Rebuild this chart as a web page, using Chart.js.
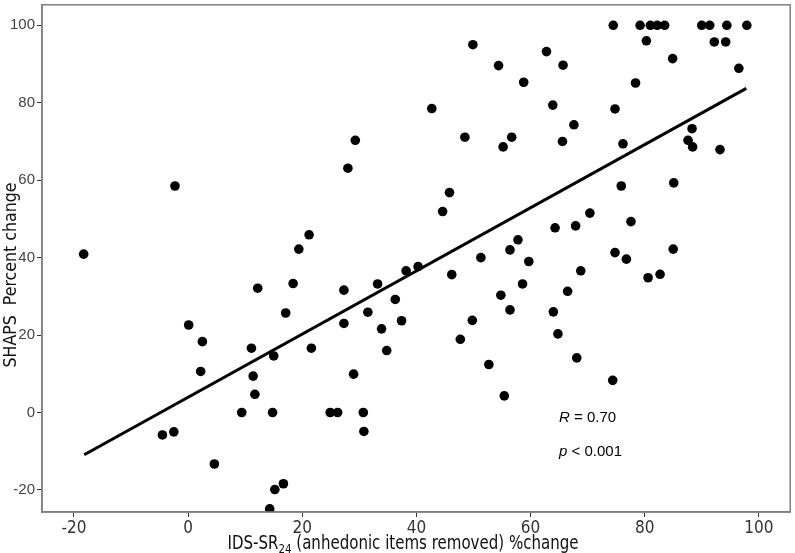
<!DOCTYPE html>
<html>
<head>
<meta charset="utf-8">
<script src="https://cdn.jsdelivr.net/npm/chart.js@4.4.1/dist/chart.umd.min.js"></script>
<style>
  html, body { margin: 0; padding: 0; background: #fff; }
  #wrap { width: 795px; height: 553px; position: relative; }
</style>
</head>
<body>
<div id="wrap"><canvas id="scatterChart"></canvas></div>
<script>
// IDS-SR24 % change (x) vs SHAPS % change (y)
const idsChange = [
  -18.3, -2.3, 49.9, 54.4, 58.8, 42.7, 29.3, 28.0, 48.5, 56.7,
  55.2, 45.8, 44.6, 21.2, 19.4, 57.8, 56.4, 51.3, 59.7, 74.5,
  79.2, 81.0, 82.2, 83.5, 90.0, 91.4, 94.4, 97.9, 80.3, 92.2,
  94.2, 84.9, 96.5, 62.8, 65.7, 78.4, 63.9, 74.8, 67.6, 65.6,
  76.2, 88.3, 87.6, 88.4, 93.2, 75.9, 85.1, 70.4, 64.3, 67.9,
  77.6, 74.8, 76.8, 85.0, 12.2, 17.1, 0.1, 2.5, 11.1, 15.0,
  2.2, 11.4, 11.7, 9.4, 14.8, -4.5, -2.5, 4.6, 15.2, 16.7,
  14.3, 18.4, 27.3, 33.2, 38.2, 40.3, 46.2, 58.6, 54.8, 56.4,
  49.8, 47.7, 52.7, 55.4, 36.3, 31.5, 27.3, 33.9, 37.4, 34.8,
  21.6, 29.0, 24.9, 26.2, 30.7, 30.8, 68.8, 66.5, 80.6, 82.7,
  64.0, 64.8, 68.1, 74.4
];
const shapsChange = [
  40.9, 58.5, 95.0, 89.6, 85.3, 78.5, 70.3, 63.1, 71.1, 71.1,
  68.6, 56.8, 51.9, 45.9, 42.2, 44.6, 42.0, 40.0, 39.0, 100,
  100, 100, 100, 100, 100, 100, 100, 100, 96.0, 95.7,
  95.7, 91.4, 88.9, 93.2, 89.7, 85.1, 79.4, 78.4, 74.3, 70.0,
  69.4, 73.3, 70.3, 68.6, 67.9, 58.5, 59.3, 51.5, 47.7, 48.2,
  49.3, 41.3, 39.6, 42.2, 32.1, 25.7, 22.6, 18.3, 16.6, 14.6,
  10.6, 9.4, 4.7, 0, 0, -5.8, -5.0, -13.3, -19.9, -18.4,
  -24.9, 33.3, 31.6, 33.2, 36.6, 37.7, 35.6, 33.2, 30.3, 26.5,
  23.8, 18.9, 12.4, 4.3, 29.2, 25.9, 23.0, 21.6, 23.7, 16.0,
  16.6, 9.9, 0, 0, 0, -4.9, 36.6, 31.3, 34.8, 35.7,
  26.0, 20.3, 14.1, 8.3
];

// fitted line end points
const fitX = [-18.2, 97.8];
const fitY = [-10.9, 83.7];

const statLines = ['R = 0.70', 'p < 0.001'];

const points = idsChange.map((x, i) => ({ x: x, y: shapsChange[i] }));
const fitPoints = fitX.map((x, i) => ({ x: x, y: fitY[i] }));

const narrow = '"DejaVu Sans Condensed", "Liberation Sans", sans-serif';
const arial = '"Liberation Sans", Arial, sans-serif';

// box, axis titles and R / p text
const extrasPlugin = {
  id: 'extras',
  afterDraw(chart) {
    const ctx = chart.ctx;
    const a = chart.chartArea;
    const xs = chart.scales.x, ys = chart.scales.y;
    ctx.save();
    ctx.strokeStyle = '#7f7f7f';
    ctx.lineWidth = 1.5;
    ctx.strokeRect(a.left, a.top, a.right - a.left, a.bottom - a.top);

    // x title with subscript, squeezed a bit to look like the narrow original
    ctx.fillStyle = '#111';
    ctx.textBaseline = 'alphabetic';
    ctx.textAlign = 'left';
    const big = '19px ' + narrow, small = '13px ' + narrow;
    const p1 = 'IDS-SR', p2 = '24', p3 = ' (anhedonic items removed) %change';
    ctx.font = big; const w1 = ctx.measureText(p1).width, w3 = ctx.measureText(p3).width;
    ctx.font = small; const w2 = ctx.measureText(p2).width;
    const total = w1 + w2 + w3;
    const squeeze = 351 / total;
    ctx.save();
    ctx.translate(403 - total * squeeze / 2, 549);
    ctx.scale(squeeze, 1);
    let tx = 0;
    ctx.font = big; ctx.fillText(p1, tx, 0); tx += w1;
    ctx.font = small; ctx.fillText(p2, tx, 4); tx += w2;
    ctx.font = big; ctx.fillText(p3, tx, 0);
    ctx.restore();

    // y title
    ctx.save();
    ctx.translate(12, 275);
    ctx.rotate(-Math.PI / 2);
    ctx.textAlign = 'center';
    ctx.textBaseline = 'middle';
    ctx.font = '17px ' + narrow;
    const yt = 'SHAPS  Percent change';
    const yw = ctx.measureText(yt).width;
    ctx.scale(185 / yw, 1);
    ctx.fillText(yt, 0, 0);
    ctx.restore();

    // R and p
    ctx.textAlign = 'left';
    ctx.textBaseline = 'middle';
    ctx.fillStyle = '#000';
    const sx = xs.getPixelForValue(65);
    [[-1.4, statLines[0]], [-10.1, statLines[1]]].forEach(([yv, s]) => {
      const py = ys.getPixelForValue(yv);
      const head = s.charAt(0), rest = s.slice(1);
      ctx.font = 'italic 15px ' + arial;
      ctx.fillText(head, sx, py);
      const hw = ctx.measureText(head).width;
      ctx.font = '15px ' + arial;
      ctx.fillText(rest, sx + hw, py);
    });
    ctx.restore();
  }
};

new Chart(document.getElementById('scatterChart').getContext('2d'), {
  type: 'scatter',
  data: {
    datasets: [
      {
        label: 'subjects',
        data: points,
        backgroundColor: '#000',
        borderWidth: 0,
        pointRadius: 4.8,
        pointHoverRadius: 4.8
      },
      {
        label: 'fit',
        data: fitPoints,
        showLine: true,
        borderColor: '#000',
        borderWidth: 3,
        pointRadius: 0,
        fill: false
      }
    ]
  },
  plugins: [extrasPlugin],
  options: {
    responsive: true,
    maintainAspectRatio: false,
    animation: false,
    layout: { padding: { top: 2, right: 2, left: 0, bottom: 0 } },
    plugins: {
      legend: { display: false },
      tooltip: { enabled: false }
    },
    scales: {
      x: {
        type: 'linear',
        min: -25.6,
        max: 105.5,
        afterFit: function(scale) {
          scale.height = 41;
          scale.paddingLeft = 0;
          scale.paddingRight = 0;
        },
        ticks: {
          stepSize: 20,
          includeBounds: false,
          color: '#333',
          padding: 1,
          maxRotation: 0,
          font: { family: narrow, size: 17 }
        },
        grid: { drawOnChartArea: false, drawTicks: true, tickLength: 5, color: '#333' },
        border: { display: true, color: '#7f7f7f', width: 1.5 }
      },
      y: {
        type: 'linear',
        min: -25.7,
        max: 105.3,
        afterFit: function(scale) {
          scale.width = 42;
          scale.paddingTop = 0;
          scale.paddingBottom = 0;
        },
        ticks: {
          stepSize: 20,
          includeBounds: false,
          color: '#444',
          padding: 2,
          font: { family: arial, size: 15 }
        },
        grid: { drawOnChartArea: false, drawTicks: true, tickLength: 5, color: '#333' },
        border: { display: true, color: '#7f7f7f', width: 1.5 }
      }
    }
  }
});
</script>
</body>
</html>
